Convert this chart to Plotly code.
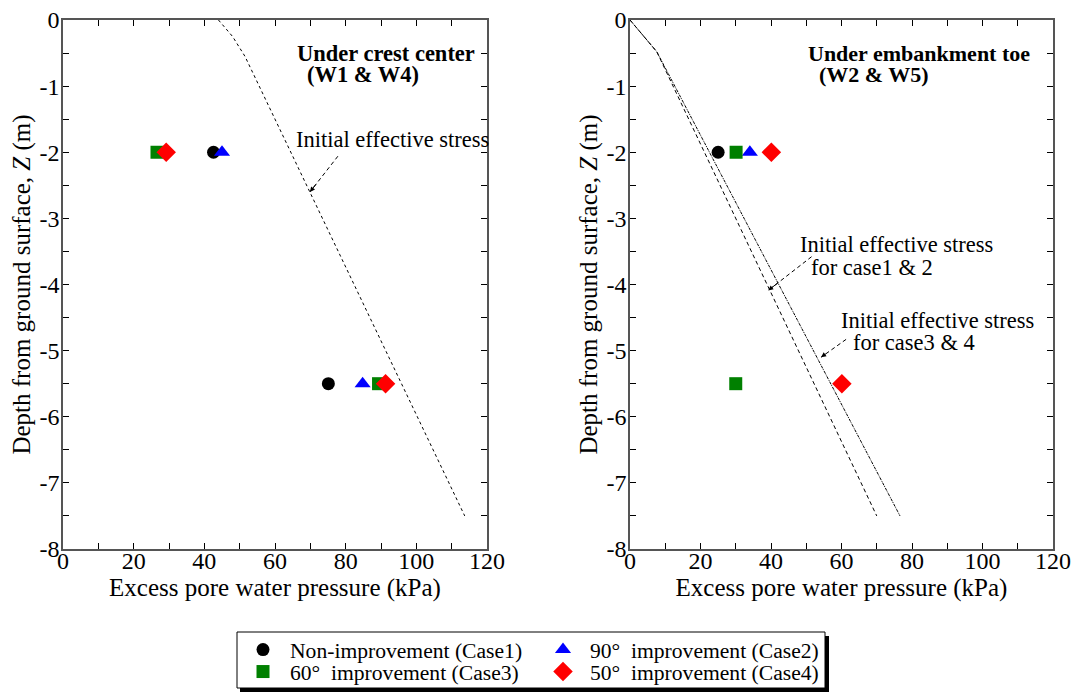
import plotly.graph_objects as go

# ---------------- data ----------------
depths = [-2.0, -5.5]
# Left panel: under crest center (W1 & W4)
left_case1 = [42.6, 75.1]
left_case2 = [45.0, 84.8]
left_case3 = [26.6, 89.3]
left_case4 = [29.2, 91.3]
left_init_x = [44.0, 48.0, 51.5, 113.7]
left_init_z = [0.0, -0.25, -0.55, -7.5]

# Right panel: under embankment toe (W2 & W5)
right_depth_a = [-2.0]
right_case1 = [25.0]
right_case2 = [34.0]
right_case3 = [30.1, 30.0]
right_case4 = [40.1, 60.1]
right_init12_x = [0.0, 7.6, 70.0]
right_init12_z = [0.0, -0.48, -7.5]
right_init34_x = [0.0, 7.6, 76.6]
right_init34_z = [0.0, -0.48, -7.5]

x_ticks = [0, 20, 40, 60, 80, 100, 120]
x_ticklabels = ["0", "20", "40", "60", "80", "100", "120"]
y_ticks = [0, -1, -2, -3, -4, -5, -6, -7, -8]
y_ticklabels = ["0", "-1", "-2", "-3", "-4", "-5", "-6", "-7", "-8"]

SP = "\u00a0\u00a0"
names = ["Non-improvement (Case1)", "90°" + SP + "improvement (Case2)",
         "60°" + SP + "improvement (Case3)", "50°" + SP + "improvement (Case4)"]
colors = ["black", "blue", "green", "red"]
symbols = ["circle", "triangle-up", "square", "diamond"]
sizes = [13, 14, 13, 15]
legend_ids = ["legend", "legend2", "legend3", "legend4"]

FONT = "Liberation Serif, Times New Roman, serif"
W, H = 1076, 693

fig = go.Figure()

# initial effective stress lines
fig.add_trace(go.Scatter(x=left_init_x, y=left_init_z, mode="lines",
                         line=dict(color="black", width=1, dash="3px,3px"),
                         showlegend=False, xaxis="x", yaxis="y"))
fig.add_trace(go.Scatter(x=right_init12_x, y=right_init12_z, mode="lines",
                         line=dict(color="black", width=1, dash="4px,3px"),
                         showlegend=False, xaxis="x2", yaxis="y2"))
fig.add_trace(go.Scatter(x=right_init34_x, y=right_init34_z, mode="lines",
                         line=dict(color="black", width=1, dash="3px,1px,1px,1px"),
                         showlegend=False, xaxis="x2", yaxis="y2"))

left_vals = [left_case1, left_case2, left_case3, left_case4]
right_vals = [(right_case1, right_depth_a), (right_case2, right_depth_a),
              (right_case3, depths), (right_case4, depths)]

for i in range(4):
    fig.add_trace(go.Scatter(x=left_vals[i], y=depths, mode="markers", name=names[i],
                             marker=dict(color=colors[i], symbol=symbols[i], size=sizes[i]),
                             legendgroup=str(i), showlegend=True, legend=legend_ids[i],
                             xaxis="x", yaxis="y"))
for i in range(4):
    xv, yv = right_vals[i]
    fig.add_trace(go.Scatter(x=xv, y=yv, mode="markers", name=names[i],
                             marker=dict(color=colors[i], symbol=symbols[i], size=sizes[i]),
                             legendgroup=str(i), showlegend=False, xaxis="x2", yaxis="y2"))

ydom = [1 - 549 / H, 1 - 20 / H]
TICKF = dict(family=FONT, size=24, color="black")
TITLEF = dict(family=FONT, size=25, color="black")

def xax(dom, anchor):
    return dict(domain=dom, anchor=anchor, range=[0, 120], automargin=False,
                tickmode="array", tickvals=x_ticks, ticktext=x_ticklabels,
                ticks="inside", ticklen=6, tickcolor="black", mirror="allticks",
                ticklabelstandoff=-11,
                showline=True, linecolor="#555", linewidth=1.5, showgrid=False, zeroline=False,
                minor=dict(dtick=10, tick0=0, ticks="inside", ticklen=6, tickcolor="black", showgrid=False),
                tickfont=TICKF,
                title=dict(text="Excess pore water pressure (kPa)", font=TITLEF, standoff=5))

def yax(anchor):
    return dict(domain=ydom, anchor=anchor, range=[-8, 0], automargin=False,
                tickmode="array", tickvals=y_ticks, ticktext=y_ticklabels,
                ticks="inside", ticklen=6, tickcolor="black", mirror="allticks",
                ticklabelstandoff=-3,
                showline=True, linecolor="#555", linewidth=1.5, showgrid=False, zeroline=False,
                minor=dict(dtick=0.5, tick0=0, ticks="inside", ticklen=6, tickcolor="black", showgrid=False),
                tickfont=TICKF,
                title=dict(text="Depth from ground surface, <i>Z</i> (m)", font=TITLEF, standoff=2))

LEGF = dict(family=FONT, size=21.6, color="black")
leg_pos = [(236, 650), (536, 650), (236, 672), (536, 672)]
legends = {}
for lid, (lx, ly) in zip(legend_ids, leg_pos):
    legends[lid] = dict(orientation="v", x=lx / W, y=1 - ly / H, xanchor="left", yanchor="middle",
                        bgcolor="rgba(0,0,0,0)", borderwidth=0, font=LEGF, itemwidth=44,
                        traceorder="normal", tracegroupgap=0, itemclick=False)

fig.update_layout(
    width=W, height=H, margin=dict(l=0, r=0, t=0, b=0, pad=0, autoexpand=False),
    paper_bgcolor="white", plot_bgcolor="white",
    font=dict(family=FONT, color="black"),
    xaxis=xax([63 / W, 487 / W], "y"),
    yaxis=yax("x"),
    xaxis2=xax([630 / W, 1053 / W], "y2"),
    yaxis2=yax("x2"),
    showlegend=True,
    **legends,
)

# legend box with shadow
fig.add_shape(type="rect", xref="paper", yref="paper",
              x0=240 / W, x1=829 / W, y0=1 - 692 / H, y1=1 - 636 / H,
              fillcolor="black", line=dict(width=0), layer="above")
fig.add_shape(type="rect", xref="paper", yref="paper",
              x0=237 / W, x1=825 / W, y0=1 - 688 / H, y1=1 - 632 / H,
              fillcolor="white", line=dict(width=1, color="black"), layer="above")

def txt(x, y, t, xr, yr, bold=False, size=22.5):
    fig.add_annotation(x=x, y=y, xref=xr, yref=yr, text=("<b>%s</b>" % t) if bold else t,
                       showarrow=False, xanchor="left", yanchor="middle",
                       font=dict(family=FONT, size=size, color="black"))

txt(65.7, -0.5, "Under crest center", "x", "y", bold=True)
txt(68.5, -0.83, "(W1 & W4)", "x", "y", bold=True)
txt(65.4, -1.81, "Initial effective stress", "x", "y")

txt(49.9, -0.5, "Under embankment toe", "x2", "y2", bold=True, size=22)
txt(53.0, -0.83, "(W2 & W5)", "x2", "y2", bold=True, size=22)
txt(47.7, -3.40, "Initial effective stress", "x2", "y2")
txt(50.8, -3.75, "for case1 & 2", "x2", "y2")
txt(59.3, -4.55, "Initial effective stress", "x2", "y2")
txt(62.7, -4.88, "for case3 & 4", "x2", "y2")

def arrow(x0, y0, x1, y1, xr, yr):
    fig.add_shape(type="line", xref=xr, yref=yr, x0=x0, y0=y0, x1=x1, y1=y1,
                  line=dict(color="black", width=1, dash="4px,3px"))
    fig.add_annotation(x=x1, y=y1, ax=x1 + (x0 - x1) * 0.25, ay=y1 + (y0 - y1) * 0.25,
                       xref=xr, yref=yr, axref=xr, ayref=yr, text="", showarrow=True,
                       arrowhead=2, arrowsize=1, arrowwidth=1, arrowcolor="black")

arrow(77.8, -2.06, 69.9, -2.60, "x", "y")
arrow(51.5, -3.58, 39.2, -4.09, "x2", "y2")
arrow(61.3, -4.83, 54.2, -5.10, "x2", "y2")

fig.write_html("out.html")
